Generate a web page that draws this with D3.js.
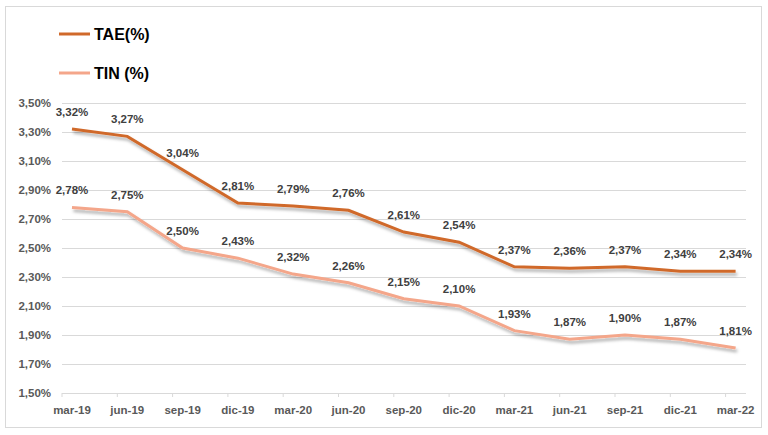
<!DOCTYPE html>
<html><head><meta charset="utf-8">
<script src="https://cdn.jsdelivr.net/npm/d3@7"></script>
<style>
body{margin:0;background:#fff;}
text{font-family:"Liberation Sans",Arial,sans-serif;}
</style></head>
<body>
<svg id="c" width="768" height="435"></svg>
<script>
const categories = ["mar-19","jun-19","sep-19","dic-19","mar-20","jun-20","sep-20","dic-20","mar-21","jun-21","sep-21","dic-21","mar-22"];
const tae = [3.32,3.27,3.04,2.81,2.79,2.76,2.61,2.54,2.37,2.36,2.37,2.34,2.34];
const tin = [2.78,2.75,2.50,2.43,2.32,2.26,2.15,2.10,1.93,1.87,1.90,1.87,1.81];
const yTicks = [1.5,1.7,1.9,2.1,2.3,2.5,2.7,2.9,3.1,3.3,3.5];
const seriesNames = ["TAE(%)","TIN (%)"];
const colors = ["#D0692A","#F4A68A"];

const svg = d3.select("#c");
const fmt = v => v.toFixed(2).replace(".", ",") + "%";

svg.append("rect").attr("x",5.5).attr("y",6.5).attr("width",756).attr("height",421)
  .attr("fill","#fff").attr("stroke","#d9d9d9").attr("stroke-width",1);

const defs = svg.append("defs");
const f = defs.append("filter").attr("id","sh").attr("x","-10%").attr("y","-50%").attr("width","120%").attr("height","200%");
f.append("feDropShadow").attr("dx",1.5).attr("dy",3).attr("stdDeviation",1.5)
  .attr("flood-color","#000").attr("flood-opacity",0.3);

const x = d3.scalePoint().domain(categories).range([72,735.6]);
const y = d3.scaleLinear().domain([1.5,3.5]).range([393,103]);

// gridlines
svg.append("g").selectAll("line").data(yTicks.slice(1)).join("line")
  .attr("x1",62).attr("x2",746).attr("y1",d=>y(d)+0.5).attr("y2",d=>y(d)+0.5)
  .attr("stroke","#d9d9d9").attr("stroke-width",1);

// y labels
svg.append("g").selectAll("text").data(yTicks).join("text")
  .attr("x",51).attr("y",d=>y(d)+4).attr("text-anchor","end")
  .attr("font-size",11.5).attr("font-weight","bold").attr("fill","#595959").text(fmt);

// x axis
svg.append("line").attr("x1",62).attr("x2",746).attr("y1",393.5).attr("y2",393.5).attr("stroke","#d9d9d9");
svg.append("g").selectAll("line").data(categories).join("line")
  .attr("x1",d=>x(d)-10).attr("x2",d=>x(d)-10).attr("y1",393).attr("y2",397).attr("stroke","#d9d9d9");
svg.append("g").selectAll("text").data(categories).join("text")
  .attr("x",d=>x(d)).attr("y",414).attr("text-anchor","middle")
  .attr("font-size",11.5).attr("font-weight","bold").attr("fill","#595959").text(d=>d);

const line = d3.line().x((d,i)=>x(categories[i])).y(d=>y(d));
[tae,tin].forEach((s,k)=>{
  svg.append("path").datum(s).attr("d",line).attr("fill","none")
    .attr("stroke",colors[k]).attr("stroke-width",3).attr("filter","url(#sh)");
  svg.append("g").selectAll("text").data(s).join("text")
    .attr("x",(d,i)=>x(categories[i])).attr("y",d=>y(d)-13).attr("text-anchor","middle")
    .attr("font-size",11.5).attr("font-weight","bold").attr("fill","#404040").text(fmt);
});

// legend
const ly = [34,73];
seriesNames.forEach((n,k)=>{
  svg.append("line").attr("x1",59).attr("x2",90).attr("y1",ly[k]).attr("y2",ly[k])
    .attr("stroke",colors[k]).attr("stroke-width",3);
  svg.append("text").attr("x",94).attr("y",ly[k]+5.5).attr("font-size",16)
    .attr("font-weight","bold").attr("fill","#000").text(n);
});
</script>
</body></html>
